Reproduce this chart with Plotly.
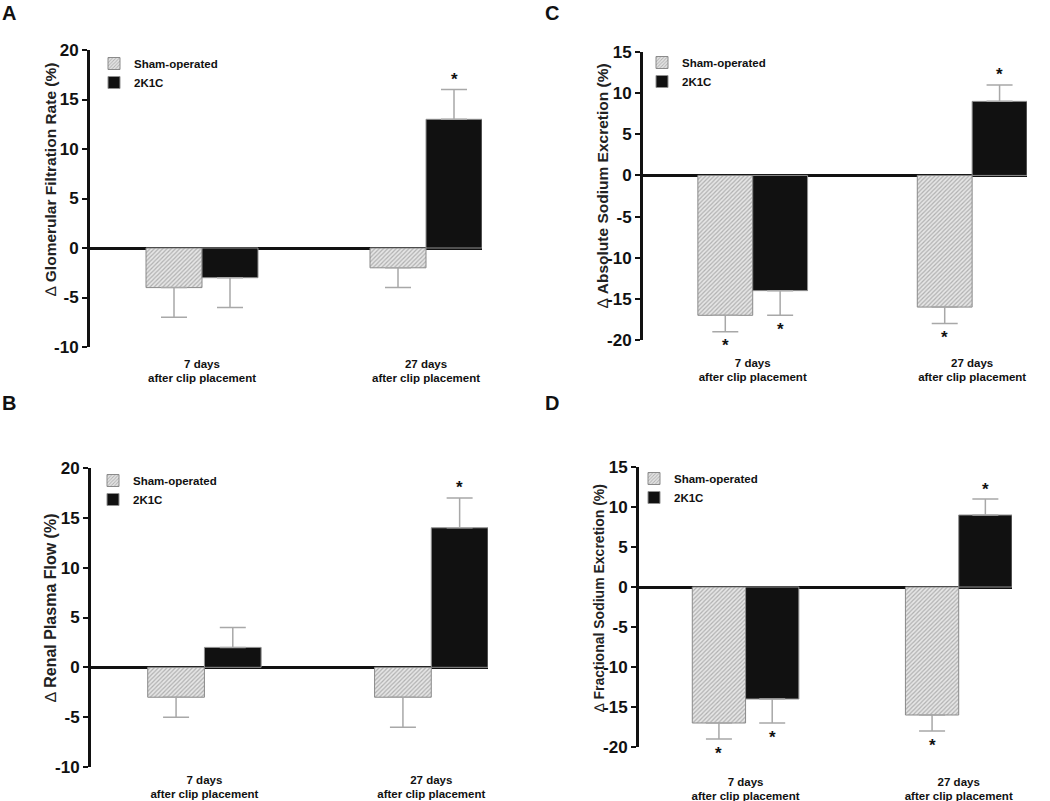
import plotly.graph_objects as go

FONT = "Liberation Sans, Arial, sans-serif"

# ---------------- data ----------------
time_points = [0, 1]
time_labels = ["7 days<br>after clip placement", "27 days<br>after clip placement"]
group_names = ["Sham-operated", "2K1C"]

# A: glomerular filtration rate
gfr_sham = [-4, -2]
gfr_sham_err = [3, 2]
gfr_2k1c = [-3, 13]
gfr_2k1c_err = [3, 3]
gfr_sham_sig = [False, False]
gfr_2k1c_sig = [False, True]

# B: renal plasma flow
rpf_sham = [-3, -3]
rpf_sham_err = [2, 3]
rpf_2k1c = [2, 14]
rpf_2k1c_err = [2, 3]
rpf_sham_sig = [False, False]
rpf_2k1c_sig = [False, True]

# C: absolute sodium excretion
una_sham = [-17, -16]
una_sham_err = [2, 2]
una_2k1c = [-14, 9]
una_2k1c_err = [3, 2]
una_sham_sig = [True, True]
una_2k1c_sig = [True, True]

# D: fractional sodium excretion
fena_sham = [-17, -16]
fena_sham_err = [2, 2]
fena_2k1c = [-14, 9]
fena_2k1c_err = [3, 2]
fena_sham_sig = [True, True]
fena_2k1c_sig = [True, True]

y_titles = {
    "A": "Glomerular Filtration Rate (%)",
    "B": "Renal Plasma Flow (%)",
    "C": "Absolute Sodium Excretion (%)",
    "D": "Fractional Sodium Excretion (%)",
}
y_ticks_gfr_rpf = [-10, -5, 0, 5, 10, 15, 20]
y_ticks_sodium = [-20, -15, -10, -5, 0, 5, 10, 15]
y_ticks = {"A": y_ticks_gfr_rpf, "B": y_ticks_gfr_rpf, "C": y_ticks_sodium, "D": y_ticks_sodium}

# ---------------- layout config ----------------
W, H = 1050, 801
def px_x(p):
    return p / W
def px_y(p):
    return 1 - p / H

panels = [
    dict(key="A", ax="", sham=gfr_sham, sham_err=gfr_sham_err, k=gfr_2k1c, k_err=gfr_2k1c_err,
         sham_sig=gfr_sham_sig, k_sig=gfr_2k1c_sig,
         xd=(90, 482), yd=(50, 347), title_pos=(50, 180), title_size=15.5,
         legend_pos=(94, 49), letter_pos=(9, 0), letter_anchor="top", standoff=8),
    dict(key="B", ax="2", sham=rpf_sham, sham_err=rpf_sham_err, k=rpf_2k1c, k_err=rpf_2k1c_err,
         sham_sig=rpf_sham_sig, k_sig=rpf_2k1c_sig,
         xd=(91, 488), yd=(468, 767), title_pos=(50, 608), title_size=16,
         legend_pos=(93, 466), letter_pos=(9, 403), letter_anchor="middle", standoff=4),
    dict(key="C", ax="3", sham=una_sham, sham_err=una_sham_err, k=una_2k1c, k_err=una_2k1c_err,
         sham_sig=una_sham_sig, k_sig=una_2k1c_sig,
         xd=(643, 1027), yd=(52, 340), title_pos=(602, 186), title_size=15.5,
         legend_pos=(642, 48), letter_pos=(552, 0), letter_anchor="top", standoff=14),
    dict(key="D", ax="4", sham=fena_sham, sham_err=fena_sham_err, k=fena_2k1c, k_err=fena_2k1c_err,
         sham_sig=fena_sham_sig, k_sig=fena_2k1c_sig,
         xd=(639, 1012), yd=(467, 747), title_pos=(599, 598), title_size=14,
         legend_pos=(634, 464), letter_pos=(552, 403), letter_anchor="middle", standoff=26),
]

BAR_OFFSET = 0.125  # half of each bar's slot within a group (bargap 0.5)

fig = go.Figure()
annotations = []

def one_sided(vals, errs):
    plus = [e if v >= 0 else 0 for v, e in zip(vals, errs)]
    minus = [e if v < 0 else 0 for v, e in zip(vals, errs)]
    return plus, minus

for i, p in enumerate(panels):
    xa = "x" + p["ax"]
    ya = "y" + p["ax"]
    legend_name = "legend" if i == 0 else f"legend{i+1}"

    sp, sm = one_sided(p["sham"], p["sham_err"])
    kp, km = one_sided(p["k"], p["k_err"])

    fig.add_trace(go.Bar(
        x=time_points, y=p["sham"], name=group_names[0], xaxis=xa, yaxis=ya,
        legend=legend_name,
        marker=dict(color="#d8d8d8", line=dict(color="#8a8a8a", width=1),
                    pattern=dict(shape="/", fgcolor="#7a7a7a", bgcolor="#e6e6e6",
                                 size=3, solidity=0.4)),
        error_y=dict(type="data", symmetric=False, array=sp, arrayminus=sm,
                     color="#a8a8a8", thickness=1.5, width=13),
    ))
    fig.add_trace(go.Bar(
        x=time_points, y=p["k"], name=group_names[1], xaxis=xa, yaxis=ya,
        legend=legend_name,
        marker=dict(color="#111111", line=dict(color="#909090", width=1)),
        error_y=dict(type="data", symmetric=False, array=kp, arrayminus=km,
                     color="#a8a8a8", thickness=1.5, width=13),
    ))

    # significance asterisks
    for vals, errs, sigs, off in [(p["sham"], p["sham_err"], p["sham_sig"], -BAR_OFFSET),
                                  (p["k"], p["k_err"], p["k_sig"], BAR_OFFSET)]:
        for xp, v, e, s in zip(time_points, vals, errs, sigs):
            if not s:
                continue
            up = v >= 0
            annotations.append(dict(
                x=xp + off, y=v + e if up else v - e, xref=xa, yref=ya,
                text="<b>*</b>", showarrow=False, yanchor="middle",
                yshift=10 if up else -14,
                font=dict(family=FONT, size=17, color="#111"),
            ))

    # axes
    x0, x1 = p["xd"]
    y0, y1 = p["yd"]
    xkey = "xaxis" + p["ax"]
    ykey = "yaxis" + p["ax"]
    yt = y_ticks[p["key"]]
    fig.update_layout(**{
        xkey: dict(domain=[px_x(x0), px_x(x1)], anchor=ya, range=[-0.5, 1.25],
                   tickvals=time_points, ticktext=time_labels, showline=False,
                   showgrid=False, zeroline=False, ticks="", automargin=False,
                   ticklabelstandoff=p["standoff"],
                   tickfont=dict(family=FONT, size=11.5, color="#111", weight="bold")),
        ykey: dict(domain=[px_y(y1), px_y(y0)], anchor=xa, range=[yt[0], yt[-1]],
                   tickvals=yt, ticktext=[str(t) for t in yt], automargin=False,
                   showline=True, linecolor="#111", linewidth=3,
                   ticks="outside", ticklen=5, tickwidth=2, tickcolor="#111",
                   showgrid=False, zeroline=True, zerolinecolor="#111",
                   zerolinewidth=3,
                   tickfont=dict(family=FONT, size=17, color="#111", weight="bold")),
        legend_name: dict(x=px_x(p["legend_pos"][0]), y=px_y(p["legend_pos"][1]),
                          xanchor="left", yanchor="top", bgcolor="rgba(0,0,0,0)",
                          font=dict(family=FONT, size=11.5, color="#111", weight="bold")),
    })

    # y-axis title
    tx, ty = p["title_pos"]
    annotations.append(dict(
        x=px_x(tx), y=px_y(ty), xref="paper", yref="paper", textangle=-90,
        text="\u2206 <b>" + y_titles[p["key"]] + "</b>", showarrow=False,
        xanchor="center", yanchor="middle",
        font=dict(family=FONT, size=p["title_size"], color="#222"),
    ))
    # panel letter
    lx, ly = p["letter_pos"]
    annotations.append(dict(
        x=px_x(lx), y=px_y(ly), xref="paper", yref="paper",
        text="<b>" + p["key"] + "</b>", showarrow=False,
        xanchor="center", yanchor=p["letter_anchor"],
        font=dict(family=FONT, size=20, color="#111"),
    ))

fig.update_layout(
    width=W, height=H, margin=dict(l=0, r=0, t=0, b=0, autoexpand=False),
    paper_bgcolor="white", plot_bgcolor="white",
    barmode="group", bargap=0.5, bargroupgap=0,
    annotations=annotations, showlegend=True,
    font=dict(family=FONT, color="#111"),
)

fig.write_html("out.html", config={"displayModeBar": False},
               post_script="document.body.style.margin='0px';document.body.style.overflow='hidden';")
